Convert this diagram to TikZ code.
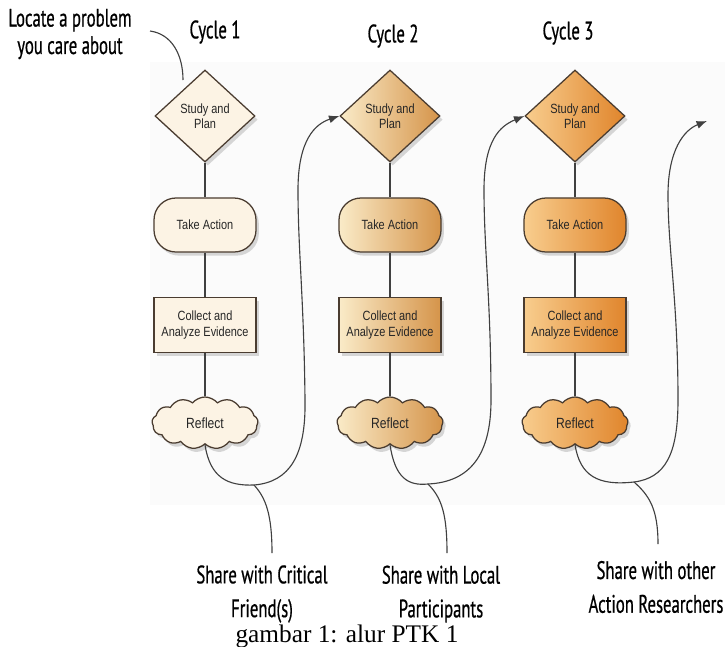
\documentclass[tikz,border=0pt]{standalone}
\usepackage{fontspec}
\setmainfont{Liberation Serif}
\newfontfamily\labfont[FakeStretch=0.66,FakeBold=0.6]{PT Sans}
\newfontfamily\boxfont[FakeStretch=0.82]{Liberation Sans}
\usetikzlibrary{shapes.geometric,shapes.symbols,shadows,arrows.meta}

\definecolor{cream}{HTML}{FCF3E4}
\definecolor{tanA}{HTML}{FAEBC8}
\definecolor{tanB}{HTML}{D5944A}
\definecolor{orA}{HTML}{F8CD8E}
\definecolor{orB}{HTML}{E0852C}
\definecolor{edge}{HTML}{4A3C30}

\tikzset{
  box/.style={draw=edge, line width=0.9pt, text=black!85, align=center,
    font=\fontsize{9.5}{11}\boxfont,
    drop shadow={opacity=0.3, shadow xshift=0.7mm, shadow yshift=-0.9mm}},
  plan/.style={box, diamond, minimum width=2.5cm, minimum height=2.3cm, inner sep=0pt},
  act/.style={box, rectangle, rounded corners=0.55cm, minimum width=2.55cm, minimum height=1.35cm},
  evid/.style={box, rectangle, minimum width=2.55cm, minimum height=1.38cm, inner sep=1pt},
  refl/.style={box, cloud, cloud puffs=13, cloud puff arc=100, aspect=2.2,
    minimum width=2.65cm, minimum height=1.3cm, inner sep=0pt},
  fillA/.style={fill=cream},
  fillB/.style={left color=tanA, right color=tanB},
  fillC/.style={left color=orA, right color=orB},
  lab/.style={font=\fontsize{18}{24}\labfont, align=center, text=black, inner sep=1pt},
  link/.style={draw=black!75, line width=0.8pt},
}

\begin{document}
\begin{tikzpicture}[x=0.025cm, y=-0.025cm, >={Latex[length=2.6mm,width=2mm]}]
  \useasboundingbox (0,0) rectangle (725,646);
  \fill[black!1.5] (150,62) rectangle (725,505);

  %titles
  \node[lab, font=\fontsize{18}{19.5}\labfont] (locate) at (70,34) {Locate a problem\\you care about};
  \node[lab] (cyc1) at (215,32) {Cycle 1};
  \node[lab] (cyc2) at (393,36) {Cycle 2};
  \node[lab] (cyc3) at (568,33) {Cycle 3};

  %cycle 1
  \node[plan, fillA] (dia1) at (205,116) {Study and\\Plan};
  \node[act, fillA] (act1) at (205,225) {Take Action};
  \node[evid, fillA] (evi1) at (205,325) {Collect and\\Analyze Evidence};
  \node[refl, fillA] (ref1) at (205,423) {\fontsize{10.5}{12}\boxfont Reflect};

  %cycle 2
  \node[plan, fillB] (dia2) at (390,116) {Study and\\Plan};
  \node[act, fillB] (act2) at (390,225) {Take Action};
  \node[evid, fillB] (evi2) at (390,325) {Collect and\\Analyze Evidence};
  \node[refl, fillB] (ref2) at (390,423) {\fontsize{10.5}{12}\boxfont Reflect};

  %cycle 3
  \node[plan, fillC] (dia3) at (575,116) {Study and\\Plan};
  \node[act, fillC] (act3) at (575,225) {Take Action};
  \node[evid, fillC] (evi3) at (575,325) {Collect and\\Analyze Evidence};
  \node[refl, fillC] (ref3) at (575,423) {\fontsize{10.5}{12}\boxfont Reflect};

  \foreach \c in {1,2,3} {
    \draw[link] (dia\c) -- (act\c);
    \draw[link] (act\c) -- (evi\c);
    \draw[link] (evi\c) -- (ref\c);
  }

  %share labels
  \node[lab] (share1) at (262,594) {Share with Critical\\Friend(s)};
  \node[lab] (share2) at (441,594) {Share with Local\\Participants};
  \node[lab] (share3) at (656,587) {Share with other\\Action Researchers};

  \coordinate (p0) at (150,31);
  \coordinate (p1) at (183,80);
  \coordinate (j1) at (254,485);
  \coordinate (j2) at (428,484);
  \coordinate (j3) at (634,482);
  \coordinate (b1) at (272,553);
  \coordinate (b2) at (447,553);
  \coordinate (b3) at (658,544);
  \coordinate (end3) at (707,121);

  %locate line
  \draw[link] (p0) .. controls (172,34) and (183,55) .. (p1);

  %loops
  \draw[link, ->] (ref1.south) .. controls (210,478) and (228,486) .. (j1)
    .. controls (290,482) and (306,455) .. (305,400)
    .. controls (304,300) and (298,250) .. (298,190)
    .. controls (298,140) and (315,124) .. (dia2.west);
  \draw[link, ->] (ref2.south) .. controls (395,478) and (408,486) .. (j2)
    .. controls (470,482) and (491,455) .. (491,400)
    .. controls (491,300) and (484,250) .. (484,190)
    .. controls (484,140) and (500,126) .. (dia3.west);
  \draw[link, ->] (ref3.south) .. controls (580,476) and (598,486) .. (j3)
    .. controls (665,478) and (678,455) .. (678,400)
    .. controls (678,300) and (668,250) .. (668,195)
    .. controls (668,150) and (684,130) .. (end3);

  %share lines
  \draw[link] (j1) .. controls (266,498) and (272,515) .. (b1);
  \draw[link] (j2) .. controls (442,498) and (447,515) .. (b2);
  \draw[link] (j3) .. controls (650,496) and (658,510) .. (b3);

  %caption
  \node[font=\fontsize{18}{20}\selectfont, inner sep=1pt] (cap) at (347,636) {gambar 1: alur PTK 1};
\end{tikzpicture}
\end{document}
